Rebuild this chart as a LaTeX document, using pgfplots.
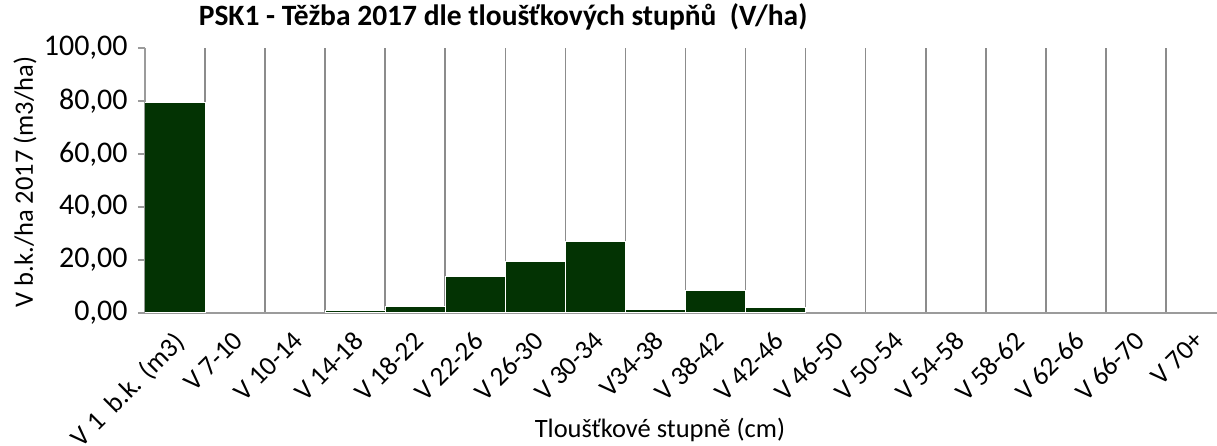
\documentclass[border=0pt]{standalone}
\usepackage{pgfplots}
\pgfplotsset{compat=1.18}
\usepackage{fontspec}
\setmainfont{Carlito}
\definecolor{bargreen}{RGB}{3,51,3}
\definecolor{gridgray}{RGB}{140,140,140}
\definecolor{axisgray}{RGB}{155,155,155}
\begin{document}
\begin{tikzpicture}
\path[use as bounding box] (-145pt,-133pt) rectangle (1072pt,313pt);
\begin{axis}[
  at={(0pt,0pt)}, anchor=south west,
  scale only axis, width=1072pt, height=265pt,
  xmin=-0.5, xmax=17.35, ymin=0, ymax=100,
  ybar, bar width=1, bar shift=0pt,
  axis x line*=bottom, axis y line*=left,
  axis line style={draw=axisgray, line width=1.5pt},
  xtick={0,...,17},
  xticklabels={{V 1\ \ b.k. (m3)},{V 7-10},{V 10-14},{V 14-18},{V 18-22},{V 22-26},{V 26-30},{V 30-34},{V34-38},{V 38-42},{V 42-46},{V 46-50},{V 50-54},{V 54-58},{V 58-62},{V 62-66},{V 66-70},{V 70+}},
  x tick style={draw=none},
  minor xtick={0.5,1.5,...,16.5},
  xminorgrids, minor x grid style={draw=gridgray, line width=1.6pt},
  ytick={0,20,...,100},
  y tick style={draw=axisgray, line width=1.2pt},
  tick align=outside, major tick length=7pt,
  xticklabel style={yshift=-5pt, xshift=-3pt, rotate=45, anchor=north east, font=\fontsize{27}{31}\selectfont},
  yticklabel style={xshift=-7pt, font=\fontsize{30}{34}\selectfont},
  /pgf/number format/.cd, fixed, fixed zerofill, precision=2, use comma, assume math mode=true,
  /pgfplots/.cd,
  xlabel={Tloušťkové stupně (cm)},
  xlabel style={at={(axis description cs:0.4804,-0.468)}, anchor=base, font=\fontsize{26.5}{30}\selectfont},
  ylabel={V b.k./ha 2017 (m3/ha)},
  ylabel style={at={(axis description cs:-0.1045,0.494)}, anchor=base, font=\fontsize{26.5}{30}\selectfont},
  title={PSK1 - Těžba 2017 dle tloušťkových stupňů\ \ (V/ha)},
  title style={at={(axis description cs:0.334,1.0604)}, anchor=base, font=\bfseries\fontsize{29.5}{33}\selectfont},
]
\addplot[fill=bargreen, draw=white, line width=1pt] coordinates {
  (0,79.5) (3,1.1) (4,2.4) (5,13.6) (6,19.5) (7,27.1) (8,1.4) (9,8.4) (10,2.2)
};
\end{axis}
\end{tikzpicture}
\end{document}
